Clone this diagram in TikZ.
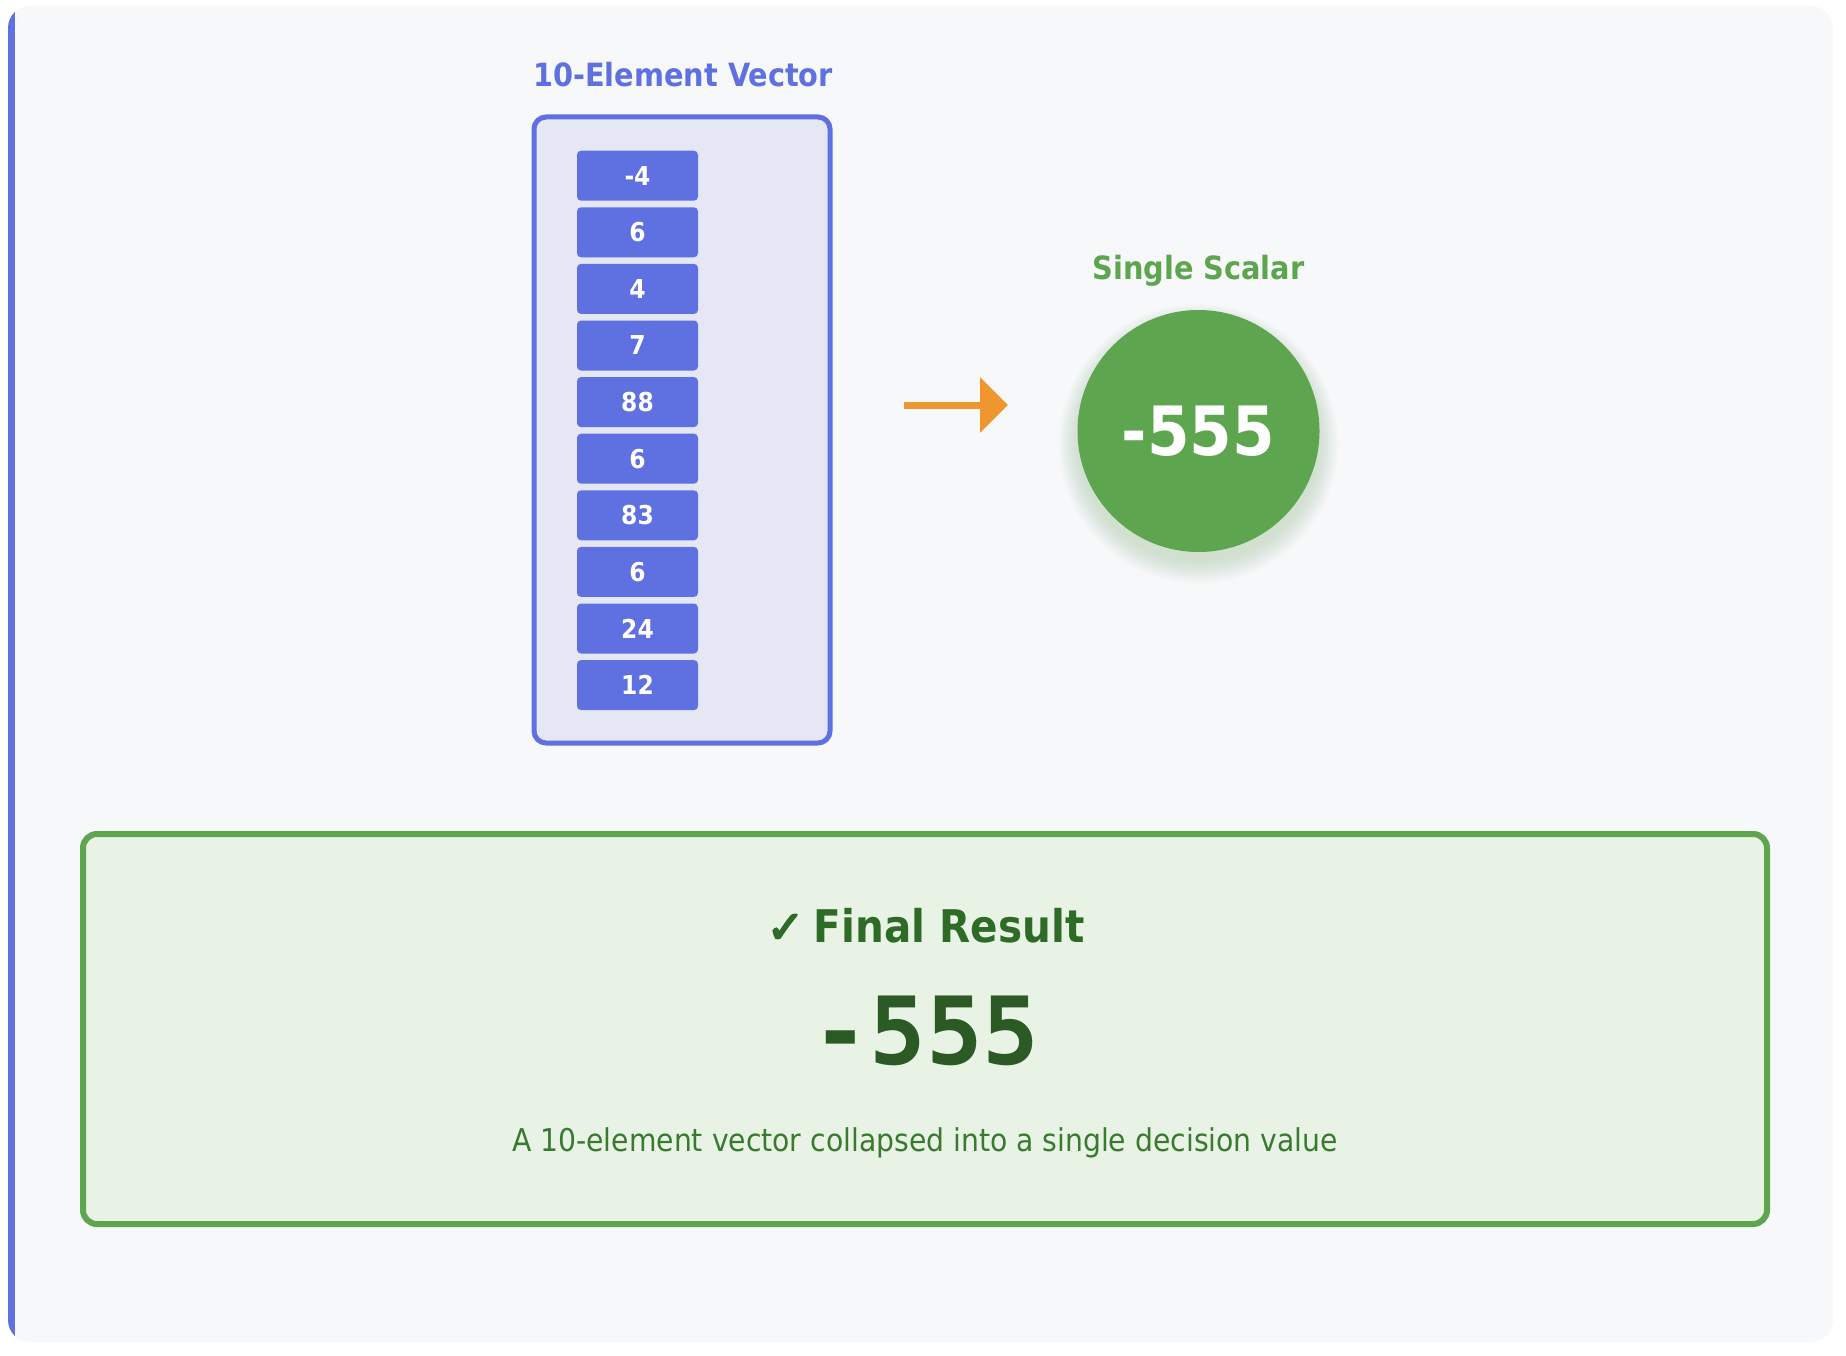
\documentclass[tikz,border=0pt]{standalone}
\usepackage{fontspec}
\setmainfont{DejaVu Sans Condensed}
\newfontfamily\monofam{DejaVu Sans Mono}
\newfontfamily\checkfam[FakeBold=4]{DejaVu Sans}
\usetikzlibrary{arrows.meta}
\definecolor{panelbg}{HTML}{F7F8FA}
\definecolor{vblue}{HTML}{5F70E0}
\definecolor{boxfill}{HTML}{E5E7F4}
\definecolor{arrorange}{HTML}{EF962F}
\definecolor{sgreen}{HTML}{5DA54E}
\definecolor{resfill}{HTML}{E8F3E6}
\definecolor{dgreen}{HTML}{2E6B27}
\definecolor{ddgreen}{HTML}{2C5A25}
\definecolor{subgreen}{HTML}{3A7A30}
\tikzset{
  cellbox/.style={fill=vblue, rounded corners=4, minimum width=121, minimum height=50, inner sep=0,
    text=white, font=\fontsize{26}{30}\selectfont\bfseries},
  heading/.style={font=\fontsize{32}{38}\selectfont\bfseries, inner sep=0},
}
\begin{document}
\begin{tikzpicture}[x=1pt,y=-1pt]
\useasboundingbox (0,0) rectangle (1846,1356);
\fill[white] (0,0) rectangle (1846,1356);
% panel
\begin{scope}
  \clip[rounded corners=22] (8,6) rectangle (1833,1342);
  \fill[panelbg] (8,-20) rectangle (1833,1342);
  \fill[vblue] (8,-20) rectangle (15,1342);
\end{scope}
% vector
\node[heading, text=vblue] (vtitle) at (683,75) {10-Element Vector};
\node[draw=vblue, line width=5, fill=boxfill, rounded corners=12, minimum width=296, minimum height=626, inner sep=0] (vec) at (682,430) {};
\foreach \v [count=\i from 0] in {-4,6,4,7,88,6,83,6,24,12} {
  \node[cellbox] (c\i) at (637.5,{175.7+56.6*\i}) {\v};
}
% arrow
\coordinate (arrS) at (904,405);
\coordinate (arrE) at (1008,405);
\draw[arrorange, line width=7, -{Triangle[length=28pt,width=54pt]}] (arrS) -- (arrE);
% scalar
\foreach \k in {1,...,14} {
  \fill[sgreen, opacity=0.014] (1198.5,{441+0.2*\k}) circle ({119+1.5*\k});
}
\node[heading, text=sgreen] (stitle) at (1198.5,271) {Single Scalar};
\node[circle, fill=sgreen, minimum size=242, inner sep=0, text=white, font=\fontsize{68}{80}\selectfont\bfseries] (scalar) at (1198.5,431) {-555};
% result box
\node[draw=sgreen, line width=6, fill=resfill, rounded corners=14, minimum width=1684, minimum height=390, inner sep=0] (res) at (925,1029) {};
\node[font=\fontsize{45}{54}\selectfont\bfseries, text=dgreen, inner sep=0] (rtitle) at (925.5,926) {{\checkfam ✓}\hspace{-0.1em} Final Result};
\node[font=\monofam\fontsize{94}{100}\selectfont\bfseries, text=ddgreen, inner sep=0] (rvalue) at (926,1031) {-555};
\node[font=\fontsize{31.4}{36}\selectfont, text=subgreen, inner sep=0] (rsub) at (925,1143) {A 10-element vector collapsed into a single decision value};
\end{tikzpicture}
\end{document}
